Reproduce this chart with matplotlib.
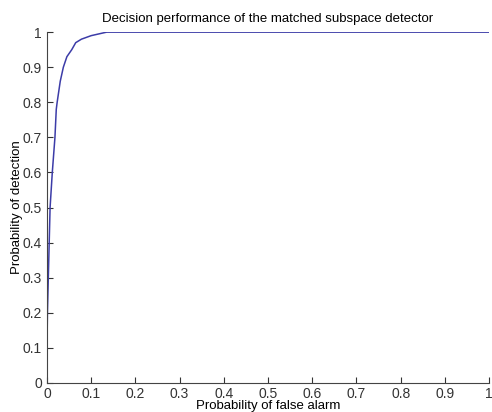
#!/usr/bin/env python3
"""
ROC curve of the matched subspace detector.
"""

import matplotlib
matplotlib.use("Agg")
import matplotlib.pyplot as plt

# ROC points
pfa = [0.0, 0.0, 0.001, 0.003, 0.005, 0.007, 0.012, 0.018, 0.021, 0.023,
       0.030, 0.037, 0.045, 0.056, 0.065, 0.078, 0.100, 0.135, 0.3, 1.0]
pd_ = [0.0, 0.1, 0.2, 0.3, 0.4, 0.5, 0.6, 0.7, 0.78, 0.8,
       0.86, 0.9, 0.93, 0.95, 0.97, 0.98, 0.99, 1.0, 1.0, 1.0]
xticks = [0, 0.1, 0.2, 0.3, 0.4, 0.5, 0.6, 0.7, 0.8, 0.9, 1]
yticks = [0, 0.1, 0.2, 0.3, 0.4, 0.5, 0.6, 0.7, 0.8, 0.9, 1]

plt.rcParams['font.family'] = ['Liberation Sans', 'DejaVu Sans']

fig = plt.figure(figsize=(4.92, 4.12), dpi=100)
ax = fig.add_axes([0.0955, 0.0704, 0.8985, 0.8516])

ax.plot(pfa, pd_, color='#3c3ca8', linewidth=1.1)

ax.set_xlim(0, 1)
ax.set_ylim(0, 1)
ax.set_xticks(xticks)
ax.set_yticks(yticks)
ax.set_xticklabels([f"{t:g}" for t in xticks])
ax.set_yticklabels([f"{t:g}" for t in yticks])
ax.tick_params(direction='in', length=4, labelsize=10, colors='#333333')
ax.tick_params(axis='x', pad=3)
for side in ('top', 'right'):
    ax.spines[side].set_visible(False)
for side in ('left', 'bottom'):
    ax.spines[side].set_color('#444444')

ax.set_title('Decision performance of the matched subspace detector', fontsize=9.5, pad=7)
ax.set_xlabel('Probability of false alarm', fontsize=9.5, labelpad=-1)
ax.set_ylabel('Probability of detection', fontsize=9.5, labelpad=0)

fig.savefig('out.png', dpi=100)
